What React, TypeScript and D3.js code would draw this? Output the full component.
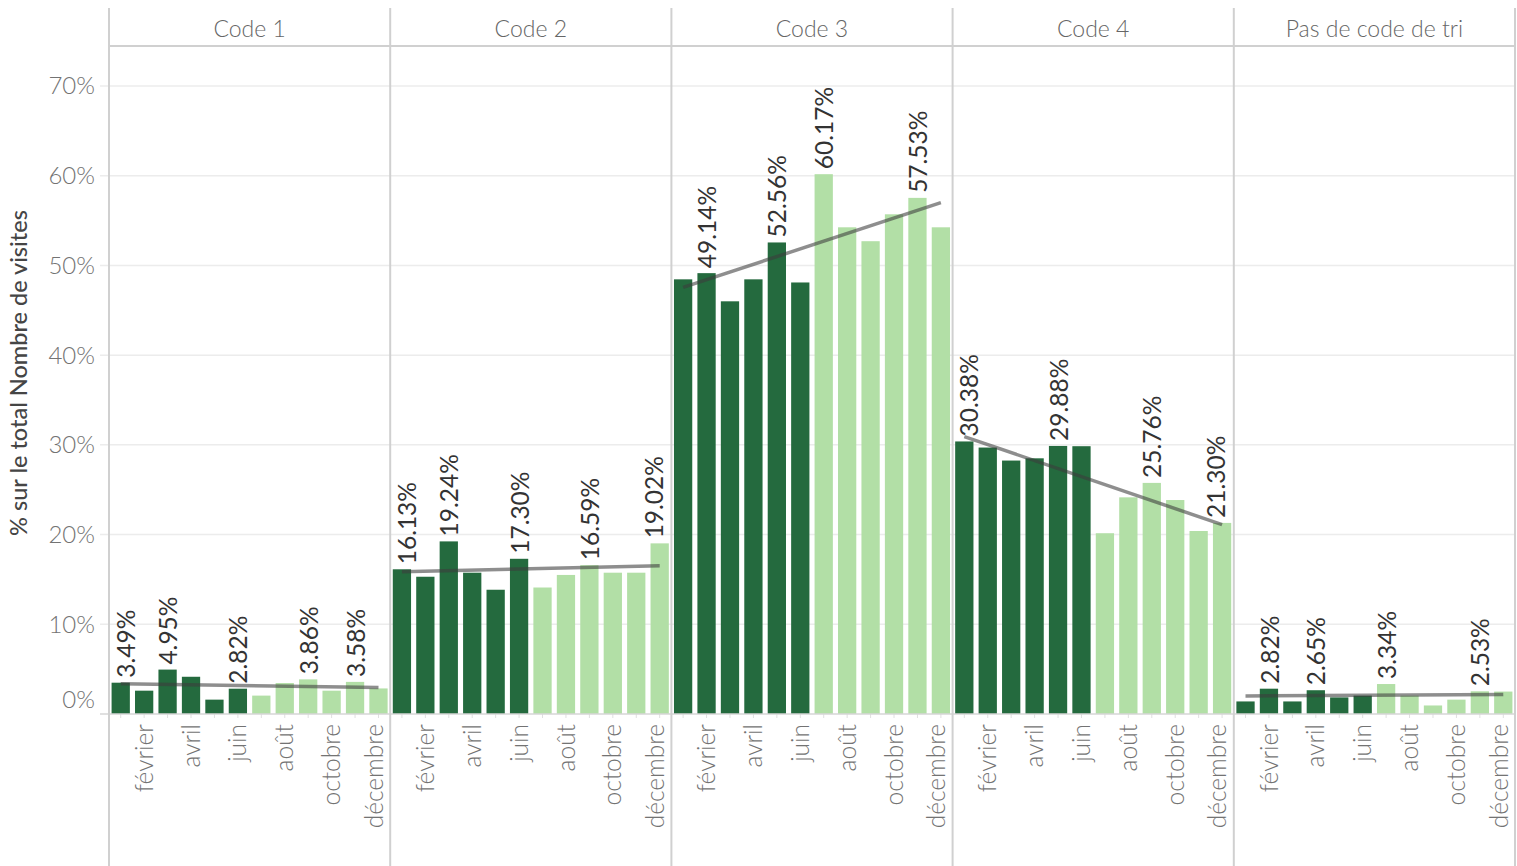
import React from "react";
import * as d3 from "d3";

const months = ["janvier", "février", "mars", "avril", "mai", "juin", "juillet", "août", "septembre", "octobre", "novembre", "décembre"];
const shownMonthTicks = ["février", "avril", "juin", "août", "octobre", "décembre"];
const codes = ["Code 1", "Code 2", "Code 3", "Code 4", "Pas de code de tri"];

const code1 = [3.49, 2.6, 4.95, 4.15, 1.6, 2.82, 2.05, 3.45, 3.86, 2.6, 3.58, 2.85];
const code2 = [16.13, 15.3, 19.24, 15.75, 13.85, 17.3, 14.1, 15.5, 16.59, 15.75, 15.75, 19.02];
const code3 = [48.45, 49.14, 46.0, 48.45, 52.56, 48.1, 60.17, 54.25, 52.7, 55.7, 57.53, 54.25];
const code4 = [30.38, 29.7, 28.25, 28.5, 29.88, 29.85, 20.15, 24.15, 25.76, 23.85, 20.4, 21.3];
const noCode = [1.4, 2.82, 1.4, 2.65, 1.85, 2.05, 3.34, 2.05, 0.95, 1.6, 2.53, 2.5];
const seriesValues = [code1, code2, code3, code4, noCode];

const labeledMonths1 = ["janvier", "mars", "juin", "septembre", "novembre"];
const labeledMonths2 = ["janvier", "mars", "juin", "septembre", "décembre"];
const labeledMonths3 = ["février", "mai", "juillet", "novembre"];
const labeledMonths4 = ["janvier", "mai", "septembre", "décembre"];
const labeledMonths5 = ["février", "avril", "juillet", "novembre"];
const labeledMonths = [labeledMonths1, labeledMonths2, labeledMonths3, labeledMonths4, labeledMonths5];

const yTicks = [0, 10, 20, 30, 40, 50, 60, 70];

const W = 1517;
const H = 866;
const PLOT_LEFT = 109;
const PLOT_RIGHT = 1515;
const PLOT_TOP = 46;
const BASE_Y = 714;
const DARK = "#246a3e";
const LIGHT = "#b2dfa6";
const FONT = "Lato, 'Noto Sans', sans-serif";

function regression(vals: number[]) {
  const n = vals.length;
  const xs = d3.range(n);
  const mx = d3.mean(xs)!;
  const my = d3.mean(vals)!;
  let num = 0, den = 0;
  xs.forEach((x, i) => { num += (x - mx) * (vals[i] - my); den += (x - mx) * (x - mx); });
  const b = num / den;
  const a = my - b * mx;
  return (x: number) => a + b * x;
}

export default function App() {
  const y = d3.scaleLinear().domain([0, 70]).range([BASE_Y, 86]);
  const panels = d3.scaleBand<string>().domain(codes).range([PLOT_LEFT, PLOT_RIGHT]).padding(0);
  const pw = panels.bandwidth();

  return (
    <>
      <style>{`body{margin:0;}`}</style>
      <svg width={W} height={H} style={{ display: "block", fontFamily: FONT }}>
        <rect x={0} y={0} width={W} height={H} fill="#fff" />
        {yTicks.filter((t) => t > 0).map((t) => (
          <line key={t} x1={100} x2={PLOT_RIGHT} y1={y(t)} y2={y(t)} stroke="#ececec" strokeWidth={1.5} />
        ))}
        {yTicks.map((t) => (
          <text key={t} x={95} y={t === 0 ? BASE_Y - 14 : y(t)} dy="0.35em" textAnchor="end" fontSize={24} fontWeight={300} fill="#737373">
            {t}%
          </text>
        ))}
        <text transform={`translate(27,${373}) rotate(-90)`} textAnchor="middle" fontSize={23.5} fontWeight={500} fill="#454545">
          % sur le total Nombre de visites
        </text>

        {codes.map((code, ci) => {
          const px = panels(code)!;
          const x = d3.scaleBand<string>().domain(months).range([px, px + pw]).paddingInner(0.22).paddingOuter(0.11);
          const vals = seriesValues[ci];
          const fit = regression(vals);
          const line = d3.line<number>()
            .x((i) => x(months[i])! + x.bandwidth() / 2)
            .y((i) => y(fit(i)));
          return (
            <g key={code}>
              <text x={px + pw / 2} y={29} dy="0.35em" textAnchor="middle" fontSize={23} fontWeight={300} fill="#666">{code}</text>
              {months.map((m, i) => (
                <rect key={m} x={x(m)} y={y(vals[i])} width={x.bandwidth()} height={BASE_Y - y(vals[i])} fill={i < 6 ? DARK : LIGHT} />
              ))}
              {months.map((m) => (
                <line key={"t" + m} x1={x(m)! + x.bandwidth() / 2} x2={x(m)! + x.bandwidth() / 2} y1={BASE_Y} y2={BASE_Y + 4} stroke="#e0e0e0" />
              ))}
              <path d={line([0, 11]) || ""} stroke="#3c3c3c" strokeOpacity={0.58} strokeWidth={3.5} fill="none" />
              {labeledMonths[ci].map((m) => {
                const i = months.indexOf(m);
                const raw = x(m)! + x.bandwidth() / 2 + 1;
                const cx = Math.max(px + 17, Math.min(px + pw - 17, raw));
                const ty = y(vals[i]) - 5;
                return (
                  <text key={"l" + m} transform={`translate(${cx},${ty}) rotate(-90)`} dy="0.35em" fontSize={24.5} fontWeight={400} fill="#333">
                    {vals[i].toFixed(2)}%
                  </text>
                );
              })}
              {shownMonthTicks.map((m) => {
                const raw = x(m)! + x.bandwidth() / 2;
                const cx = Math.min(px + pw - 16, raw);
                return (
                  <text key={"m" + m} transform={`translate(${cx},${BASE_Y + 10}) rotate(-90)`} dy="0.35em" textAnchor="end" fontSize={24.5} fontWeight={300} fill="#737373">
                    {m}
                  </text>
                );
              })}
            </g>
          );
        })}

        <line x1={100} x2={PLOT_RIGHT} y1={BASE_Y} y2={BASE_Y} stroke="#d6d6d6" strokeWidth={1.5} />
        <line x1={PLOT_LEFT} x2={PLOT_RIGHT} y1={PLOT_TOP} y2={PLOT_TOP} stroke="#d0d0d0" strokeWidth={2} />
        {[...codes.map((c) => panels(c)!), PLOT_RIGHT].map((xv, i) => (
          <line key={i} x1={xv} x2={xv} y1={8} y2={H} stroke="#d0d0d0" strokeWidth={2} />
        ))}
      </svg>
    </>
  );
}
